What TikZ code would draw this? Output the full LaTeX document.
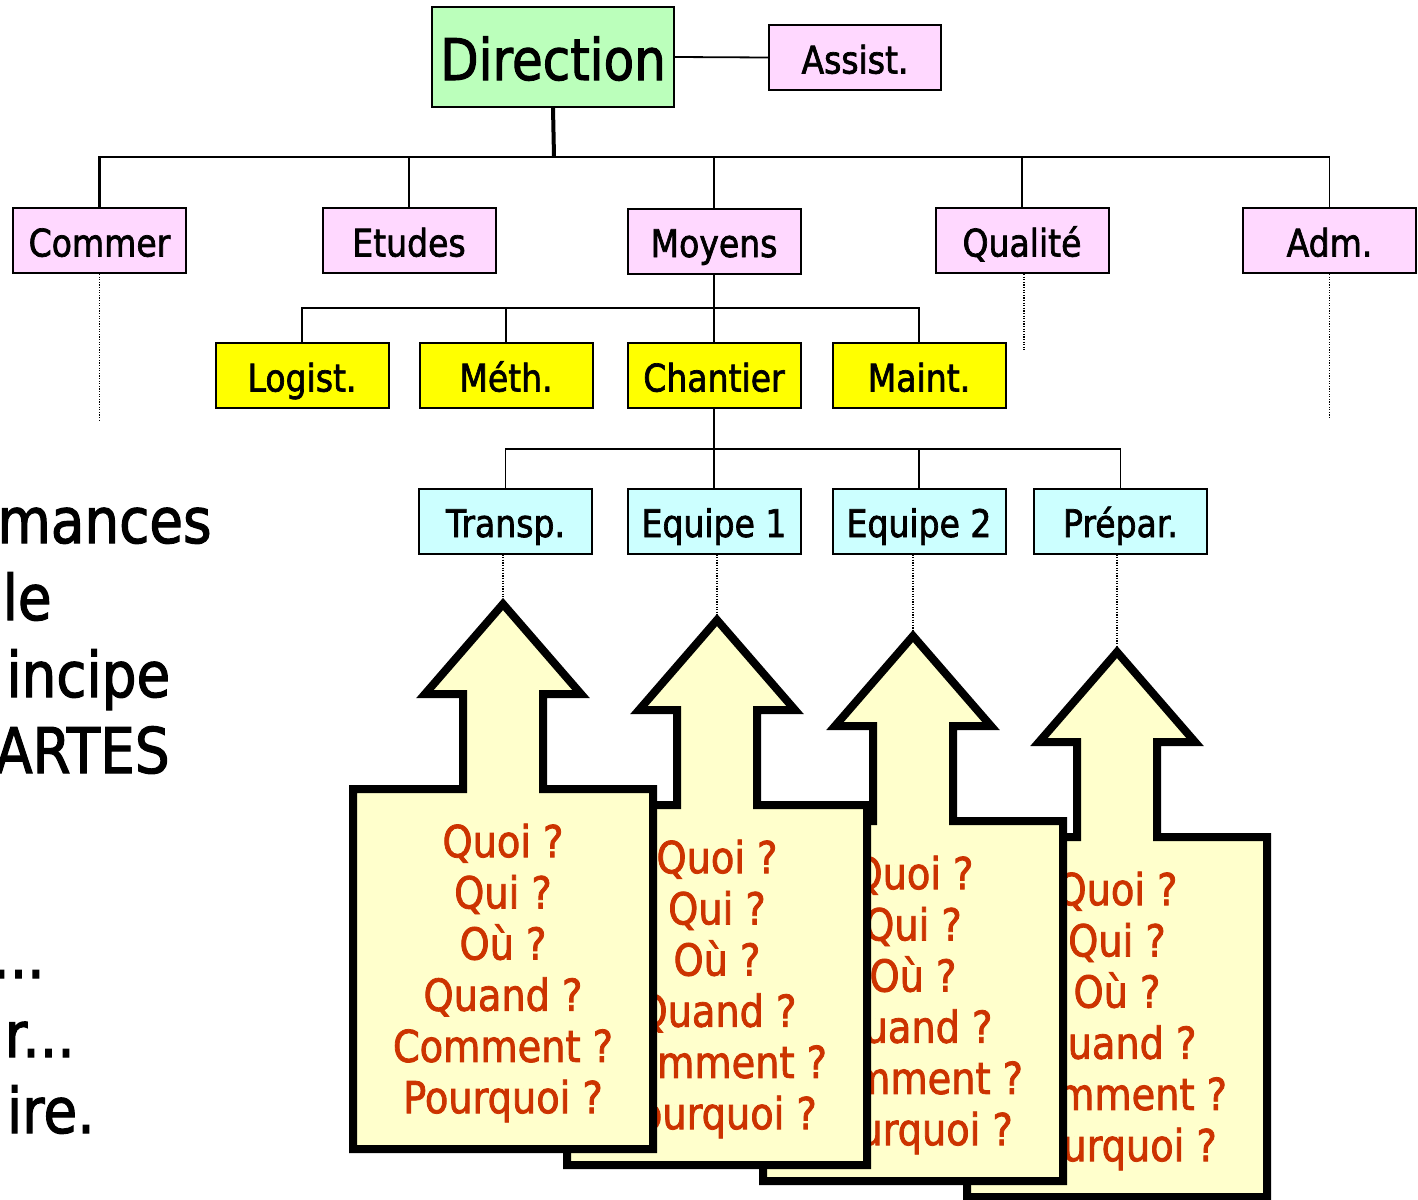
\documentclass[tikz,border=0pt]{standalone}
\usepackage{fontspec}
\setmainfont{DejaVu Sans}[FakeStretch=0.87,FakeBold=1.8]
\definecolor{dirgreen}{RGB}{187,255,187}
\definecolor{pinkfill}{RGB}{255,216,255}
\definecolor{yellowfill}{RGB}{255,255,0}
\definecolor{cyanfill}{RGB}{204,255,255}
\definecolor{calloutfill}{RGB}{255,255,204}
\definecolor{qred}{RGB}{204,51,0}
\newcommand\qcallout[3]{%
  \coordinate (#3) at (#1,#2);
  \draw[callout] (#3) -- ++(78,90) -- ++(-38,0) -- ++(0,95) -- ++(110,0)
    -- ++(0,360) -- ++(-300,0) -- ++(0,-360) -- ++(110,0) -- ++(0,-95)
    -- ++(-38,0) -- cycle;
  \node[qtext] (#3-q) at (#1,{#2+369}) {Quoi ?\\Qui ?\\Où ?\\Quand ?\\Comment ?\\Pourquoi ?};
}
\begin{document}
\begin{tikzpicture}[x=0.5pt,y=-0.5pt,
  box/.style={draw=black,line width=1pt,inner sep=0pt,minimum width=86.5pt,
    minimum height=32.5pt,text height=18pt,text depth=2pt,
    font=\fontsize{19}{22}\selectfont},
  pinkbox/.style={box,fill=pinkfill},
  yellowbox/.style={box,fill=yellowfill},
  cyanbox/.style={box,fill=cyanfill},
  link/.style={line width=0.9pt},
  trunk/.style={line width=2pt},
  trail/.style={line width=0.7pt,dash pattern=on 0.6pt off 0.7pt},
  callout/.style={draw=black,line width=4pt,fill=calloutfill,line join=miter},
  qtext/.style={text=qred,align=center,inner sep=0pt,font=\fontsize{22}{25.6}\selectfont},
  lead/.style={anchor=base east,inner sep=0pt,font=\fontsize{31.5}{36}\selectfont}]
\useasboundingbox (0,0) rectangle (1418,1199);

% top of the chart
\node[box,fill=dirgreen,minimum width=121pt,minimum height=50pt,
  text height=26pt,text depth=3pt,
  font=\fontsize{28.7}{32}\selectfont] (dir) at (553,57) {Direction};
\node[pinkbox,minimum width=86pt] (assist) at (855,57.5) {Assist.};
\draw[link] (dir.east) -- (assist.west);

% departments
\node[pinkbox] (commer)  at (99.5,240.5) {Commer};
\node[pinkbox] (etudes)  at (409,240.5)  {Etudes};
\node[pinkbox] (moyens)  at (714,241)    {Moyens};
\node[pinkbox] (qualite) at (1022,240.5) {Qualité};
\node[pinkbox] (adm)     at (1329.5,240.5) {Adm.};

\coordinate (bar1) at (554,157);
\draw[trunk] (dir.south) -- (bar1);
\draw[line width=1.4pt] (bar1) -| (commer.north);
\foreach \n in {etudes,moyens,qualite,adm}
  \draw[link] (bar1) -| (\n.north);

% services under Moyens
\node[yellowbox] (logist)   at (302,375.5) {Logist.};
\node[yellowbox] (meth)     at (506,375.5) {Méth.};
\node[yellowbox] (chantier) at (714,375.5) {Chantier};
\node[yellowbox] (maint)    at (919,375.5) {Maint.};
\coordinate (bar2) at (714,308);
\draw[link] (moyens.south) -- (bar2);
\foreach \n in {logist,meth,chantier,maint}
  \draw[link] (bar2) -| (\n.north);

% teams under Chantier
\node[cyanbox] (transp) at (505.5,521) {Transp.};
\node[cyanbox] (eqa)    at (714,521)   {Equipe 1};
\node[cyanbox] (eqb)    at (919,521)   {Equipe 2};
\node[cyanbox] (prepar) at (1120.5,521) {Prépar.};
\coordinate (bar3) at (714,449);
\draw[link] (chantier.south) -- (bar3);
\foreach \n in {transp,eqa,eqb,prepar}
  \draw[link] (bar3) -| (\n.north);

% dotted continuations
\coordinate (commerEnd) at (99.5,420);
\coordinate (qualiteEnd) at (1024,350);
\coordinate (admEnd) at (1329.5,418);
\draw[trail] (commer.south) -- (commerEnd);
\draw[trail] (qualiteEnd |- qualite.south) -- (qualiteEnd);
\draw[trail] (adm.south) -- (admEnd);

% question callouts, back to front
\qcallout{1117}{652}{tipD}
\qcallout{913}{636}{tipC}
\qcallout{717}{620}{tipB}
\qcallout{503}{604}{tipA}
\draw[trail] (tipA |- transp.south) -- (tipA);
\draw[trail] (tipB |- eqa.south) -- (tipB);
\draw[trail] (tipC |- eqb.south) -- (tipC);
\draw[trail] (tipD |- prepar.south) -- (tipD);

% text running in from the left edge
\node[lead] (t1) at (212,543)  {mances};
\node[lead] (t2) at (52,620)   {le};
\node[lead,anchor=base west] (t3) at (6,697) {incipe};
\node[lead] (t4) at (170,773)  {ARTES};
\node[lead] (t5) at (45,978)   {...};
\node[lead] (t6) at (75,1057)  {r...};
\node[lead] (t7) at (95,1133)  {ire.};
\end{tikzpicture}
\end{document}
